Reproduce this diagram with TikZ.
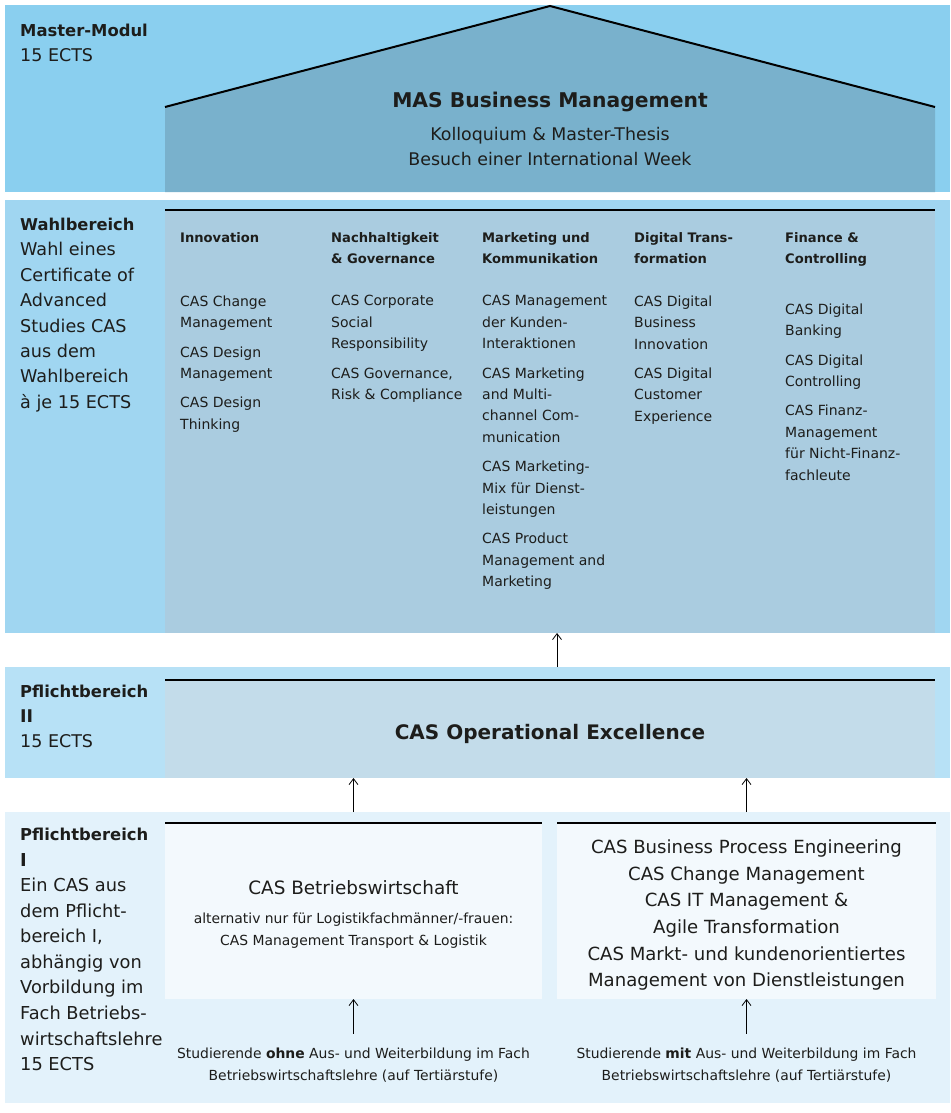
\documentclass[tikz,border=0pt]{standalone}
\usepackage{fontspec}
\setmainfont{DejaVu Sans}
\usetikzlibrary{arrows.meta}
\definecolor{ink}{HTML}{1D1D1B}
\definecolor{mmblue}{HTML}{8ACFEF}
\definecolor{housefill}{HTML}{79B1CC}
\definecolor{wbblue}{HTML}{A0D6F1}
\definecolor{wbpanel}{HTML}{AACCE0}
\definecolor{ptwoblue}{HTML}{B7E1F6}
\definecolor{ptwopanel}{HTML}{C3DCEA}
\definecolor{poneblue}{HTML}{E3F2FB}
\definecolor{ponepanel}{HTML}{F3F9FD}
\begin{document}
\begin{tikzpicture}[x=1pt,y=-1pt,
    every node/.append style={text=ink},
    band/.style={anchor=north west,inner sep=0,outer sep=0,draw=none},
    lbl/.style={anchor=north west,inner sep=0,align=left,font=\fontsize{17.5}{25.4}\selectfont},
    head/.style={anchor=north west,inner sep=0,align=left,font=\fontsize{13.1}{20.5}\selectfont\bfseries},
    item/.style={anchor=north west,inner sep=0,align=left,font=\fontsize{14}{21.4}\selectfont},
    topline/.style={line width=2pt},
    uparrow/.style={-{Straight Barb[length=6pt,width=9pt]},line width=0.8pt}]
  \useasboundingbox (0,0) rectangle (950,1113);
  \node[band,fill=mmblue,minimum width=945pt,minimum height=187pt] (mm) at (5,5) {};
  \node[band,fill=wbblue,minimum width=945pt,minimum height=433pt] (wb) at (5,200) {};
  \node[band,fill=wbpanel,minimum width=770pt,minimum height=423pt] (wbp) at (165,210) {};
  \node[band,fill=ptwoblue,minimum width=945pt,minimum height=111pt] (p2) at (5,667) {};
  \node[band,fill=ptwopanel,minimum width=770pt,minimum height=98pt] (p2p) at (165,680) {};
  \node[band,fill=poneblue,minimum width=945pt,minimum height=291pt] (p1) at (5,812) {};
  \node[band,fill=ponepanel,minimum width=377pt,minimum height=176pt] (pleft) at (165,823) {};
  \node[band,fill=ponepanel,minimum width=379pt,minimum height=176pt] (pright) at (557,823) {};

  \coordinate (eaveL) at (165,107);
  \coordinate (ridge) at (550,6);
  \coordinate (eaveR) at (935,107);
  \fill[housefill] (eaveL) -- (ridge) -- (eaveR) -- (mm.south -| eaveR) -- (mm.south -| eaveL) -- cycle;
  \draw[topline] (eaveL) -- (ridge) -- (eaveR);
  \draw[topline] (wbp.north west) -- (wbp.north east);
  \draw[topline] (p2p.north west) -- (p2p.north east);
  \draw[topline] (pleft.north west) -- (pleft.north east);
  \draw[topline] (pright.north west) -- (pright.north east);

  \node[lbl] (mmlbl) at (20,23.4) {{\fontsize{16.4}{25}\selectfont\bfseries Master-Modul}\\15 ECTS};
  \node[anchor=north,inner sep=0,font=\fontsize{20.3}{25}\selectfont\bfseries] (mas) at (550,92) {MAS Business Management};
  \node[anchor=north,inner sep=0,align=center,font=\fontsize{17.4}{25}\selectfont] (massub) at (550,127)
    {Kolloquium \& Master-Thesis\\Besuch einer International Week};

  \node[lbl,font=\fontsize{17.6}{25.4}\selectfont] (wblbl) at (20,218)
    {{\fontsize{16.3}{25}\selectfont\bfseries Wahlbereich}\\Wahl eines\\Certificate of\\Advanced\\Studies CAS\\aus dem\\Wahlbereich\\à je 15 ECTS};

  \node[head] (h1) at (180,232.6) {Innovation};
  \node[head] (h2) at (331,232.6) {Nachhaltigkeit\\\& Governance};
  \node[head] (h3) at (482,232.6) {Marketing und\\Kommunikation};
  \node[head] (h4) at (634,232.6) {Digital Trans-\\formation};
  \node[head] (h5) at (785,232.6) {Finance \&\\Controlling};

  \node[item] (c1) at (180,295.4)
    {CAS Change\\Management\\[8pt]CAS Design\\Management\\[8pt]CAS Design\\Thinking};
  \node[item] (c2) at (331,295.4)
    {CAS Corporate\\Social\\Responsibility\\[8pt]CAS Governance,\\Risk \& Compliance};
  \node[item] (c3) at (482,295.4)
    {CAS Management\\der Kunden-\\Interaktionen\\[8pt]CAS Marketing\\and Multi-\\channel Com-\\munication\\[8pt]CAS Marketing-\\Mix für Dienst-\\leistungen\\[8pt]CAS Product\\Management and\\Marketing};
  \node[item] (c4) at (634,295.4)
    {CAS Digital\\Business\\Innovation\\[8pt]CAS Digital\\Customer\\Experience};
  \node[item] (c5) at (785,303.4)
    {CAS Digital\\Banking\\[8pt]CAS Digital\\Controlling\\[8pt]CAS Finanz-\\Management\\für Nicht-Finanz-\\fachleute};

  \node[lbl] (p2lbl) at (20,684.4) {{\fontsize{16.4}{25}\selectfont\bfseries Pflichtbereich}\\\textbf{II}\\15 ECTS};
  \node[inner sep=0,yshift=-4.5pt,font=\fontsize{20}{25}\selectfont\bfseries] (opex) at (p2p.center) {CAS Operational Excellence};

  \node[lbl,font=\fontsize{17.8}{25.55}\selectfont] (p1lbl) at (20,828)
    {{\fontsize{16.4}{25}\selectfont\bfseries Pflichtbereich}\\\textbf{I}\\Ein CAS aus\\dem Pflicht-\\bereich I,\\abhängig von\\Vorbildung im\\Fach Betriebs-\\wirtschaftslehre\\15 ECTS};
  \node[anchor=north,inner sep=0,font=\fontsize{18.4}{25}\selectfont] (bw) at (353.5,880.6) {CAS Betriebswirtschaft};
  \node[anchor=north,inner sep=0,align=center,font=\fontsize{13.9}{22}\selectfont] (alt) at (353.5,912.5)
    {alternativ nur für Logistikfachmänner/-frauen:\\CAS Management Transport \& Logistik};
  \node[anchor=north,inner sep=0,align=center,font=\fontsize{18.1}{26.6}\selectfont] (list) at (746.5,839.8)
    {CAS Business Process Engineering\\CAS Change Management\\CAS IT Management \&\\Agile Transformation\\CAS Markt- und kundenorientiertes\\Management von Dienstleistungen};
  \node[anchor=north,inner sep=0,align=center,font=\fontsize{13.9}{22}\selectfont] (ohne) at (353.5,1047.5)
    {Studierende \textbf{ohne} Aus- und Weiterbildung im Fach\\Betriebswirtschaftslehre (auf Tertiärstufe)};
  \node[anchor=north,inner sep=0,align=center,font=\fontsize{13.9}{22}\selectfont] (mit) at (746.5,1047.5)
    {Studierende \textbf{mit} Aus- und Weiterbildung im Fach\\Betriebswirtschaftslehre (auf Tertiärstufe)};

  \coordinate (mid) at (557,650);
  \draw[uparrow] (p2.north -| mid) -- (wb.south -| mid);
  \draw[uparrow] (p1.north -| pleft) -- (p2.south -| pleft);
  \draw[uparrow] (p1.north -| pright) -- (p2.south -| pright);
  \draw[uparrow,shorten <=14pt] (ohne.north) -- (pleft.south);
  \draw[uparrow,shorten <=14pt] (mit.north) -- (pright.south);
\end{tikzpicture}
\end{document}
